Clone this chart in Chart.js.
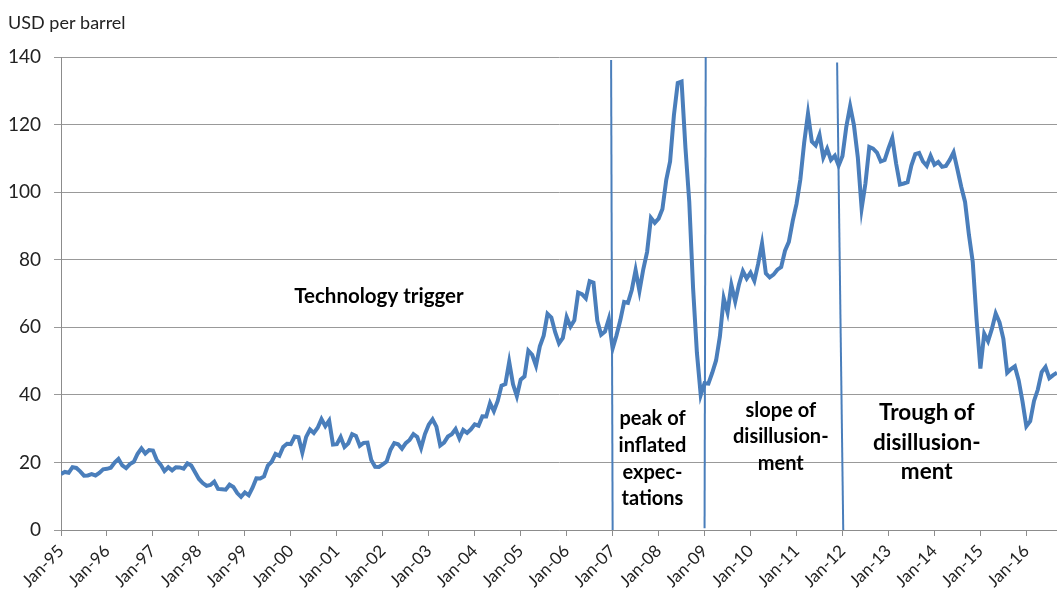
<!DOCTYPE html>
<html>
<head>
<meta charset="utf-8">
<script src="https://cdn.jsdelivr.net/npm/chart.js@4"></script>
<style>
  html, body { margin: 0; padding: 0; background: #fff; }
  #wrap { width: 1057px; height: 595px; }
</style>
</head>
<body>
<div id="wrap"><canvas id="oil" width="1057" height="595"></canvas></div>
<script>
// Brent crude, monthly average, Jan-95 .. Sep-16 (USD per barrel)

const yearTicks = ['Jan-95', 'Jan-96', 'Jan-97', 'Jan-98', 'Jan-99', 'Jan-00', 'Jan-01',
  'Jan-02', 'Jan-03', 'Jan-04', 'Jan-05', 'Jan-06', 'Jan-07', 'Jan-08', 'Jan-09',
  'Jan-10', 'Jan-11', 'Jan-12', 'Jan-13', 'Jan-14', 'Jan-15', 'Jan-16'];

const brentUsd = [
  16.57, 17.18, 16.94, 18.61, 18.37, 17.35, 16.08, 16.16, 16.53, 16.15, 16.91, 17.95,   // 1995
  18.11, 18.42, 19.97, 21.03, 19.11, 18.33, 19.50, 20.19, 22.57, 24.16, 22.63, 23.67,   // 1996
  23.51, 20.71, 19.36, 17.44, 18.57, 17.66, 18.58, 18.53, 18.17, 19.70, 19.09, 17.08,   // 1997
  15.10, 13.89, 13.05, 13.33, 14.31, 12.16, 12.05, 11.93, 13.41, 12.74, 10.93, 9.82,    // 1998
  11.10, 10.26, 12.51, 15.29, 15.23, 15.86, 19.08, 20.21, 22.54, 21.96, 24.58, 25.54,   // 1999
  25.43, 27.67, 27.46, 22.89, 27.57, 29.73, 28.71, 30.25, 32.83, 30.73, 32.39, 25.27,   // 2000
  25.42, 27.52, 24.55, 25.64, 28.36, 27.86, 24.94, 25.76, 25.86, 20.70, 18.73, 18.65,   // 2001
  19.43, 20.27, 23.70, 25.72, 25.38, 24.08, 25.72, 26.65, 28.39, 27.52, 24.26, 28.40,   // 2002
  31.17, 32.77, 30.61, 25.00, 25.86, 27.65, 28.35, 29.89, 27.11, 29.61, 28.75, 29.81,   // 2003
  31.28, 30.86, 33.63, 33.59, 37.57, 35.18, 38.22, 42.74, 43.20, 49.78, 43.11, 39.60,   // 2004
  44.51, 45.48, 53.10, 51.88, 48.65, 54.35, 57.52, 63.98, 62.91, 58.54, 55.24, 56.86,   // 2005
  62.99, 60.21, 62.06, 70.26, 69.78, 68.56, 73.67, 73.23, 61.96, 57.81, 58.76, 62.47,   // 2006
  53.68, 57.56, 62.05, 67.49, 67.21, 71.05, 76.93, 70.76, 77.17, 82.34, 92.41, 90.93,   // 2007
  92.18, 94.99, 103.64, 109.07, 122.80, 132.32, 132.72, 113.24, 97.23, 71.58, 52.45, 39.95, // 2008
  43.44, 43.32, 46.54, 50.18, 57.30, 68.61, 64.44, 72.51, 67.65, 72.77, 76.66, 74.46,   // 2009
  76.17, 73.75, 78.83, 84.82, 75.95, 74.76, 75.58, 77.04, 77.84, 82.67, 85.28, 91.45,   // 2010
  96.52, 103.72, 114.64, 123.26, 114.99, 113.83, 116.97, 110.22, 112.83, 109.55, 110.77, 107.87, // 2011
  110.69, 119.33, 125.45, 119.75, 110.34, 95.16, 102.62, 113.36, 112.86, 111.71, 109.06, 109.49, // 2012
  112.96, 116.05, 108.47, 102.25, 102.56, 102.92, 107.93, 111.28, 111.60, 109.08, 107.79, 110.76, // 2013
  108.12, 108.90, 107.48, 107.76, 109.54, 111.80, 106.77, 101.61, 97.09, 87.43, 79.44, 62.34, // 2014
  47.76, 58.10, 55.89, 59.52, 64.08, 61.48, 56.56, 46.52, 47.62, 48.43, 44.27, 38.01,   // 2015
  30.70, 32.18, 38.21, 41.58, 46.74, 48.25, 44.95, 45.84, 46.57                         // 2016
];

// phase separators, [monthIndex, price] at top and bottom
const phaseLines = [
  [[143.6, 139.1], [144, 0]],
  [[168.3, 140], [168, 0.5]],
  [[202.6, 138.4], [204.2, 0]],
];

// phase captions: month index of the centre, price at the first line
const phaseLabels = [
  { lines: ['Technology trigger'], x: 83, y: 69, size: 20.5, lead: 0 },
  { lines: ['peak of', 'inflated', 'expec-', 'tations'], x: 154.4, y: 32.9, size: 20, lead: 26.7 },
  { lines: ['slope of', 'disillusion-', 'ment'], x: 187.9, y: 35.5, size: 20, lead: 26.7 },
  { lines: ['Trough of', 'disillusion-', 'ment'], x: 226, y: 34.6, size: 22.5, lead: 29.5 },
];

const BLUE = '#4a7ebb';
const FONT = 'Lato, "Open Sans", sans-serif';

// ── captions ──────────────────────────────────────────────────────────────────

const captionPlugin = {
  id: 'captions',
  afterDraw(chart) {
    const { ctx, scales: { x, y } } = chart;
    ctx.save();
    ctx.fillStyle = '#000';
    ctx.textAlign = 'center';
    ctx.textBaseline = 'middle';
    phaseLabels.forEach(lb => {
      ctx.font = `bold ${lb.size}px ${FONT}`;
      const cx = x.getPixelForValue(lb.x);
      const cy = y.getPixelForValue(lb.y);
      lb.lines.forEach((t, i) => ctx.fillText(t, cx, cy + i * lb.lead));
    });
    // y-axis unit
    ctx.font = `18px ${FONT}`;
    ctx.fillStyle = '#222';
    ctx.textAlign = 'left';
    ctx.fillText('USD per barrel', 8, chart.chartArea.top - 34);
    ctx.restore();
  }
};

// ── chart ─────────────────────────────────────────────────────────────────────

const priceData = brentUsd.map((v, i) => ({ x: i, y: v }));

const lineSets = phaseLines.map(seg => ({
  data: seg.map(p => ({ x: p[0], y: p[1] })),
  borderColor: BLUE,
  borderWidth: 2,
  pointRadius: 0,
  clip: false,
}));

new Chart(document.getElementById('oil'), {
  type: 'line',
  data: {
    datasets: [
      ...lineSets,
      {
        label: 'Brent',
        data: priceData,
        borderColor: BLUE,
        borderWidth: 4,
        pointRadius: 0,
        tension: 0,
        fill: false,
      },
    ],
  },
  options: {
    responsive: false,
    animation: false,
    devicePixelRatio: 1,
    layout: { padding: { top: 57, left: 0, right: 0, bottom: 0 } },
    plugins: { legend: { display: false }, tooltip: { enabled: false } },
    scales: {
      x: {
        type: 'linear',
        min: 0,
        max: 260,
        afterFit: s => { s.height = 65; },
        border: { color: '#8c8c8c' },
        grid: { drawOnChartArea: false, tickLength: 6, color: '#8c8c8c' },
        ticks: {
          stepSize: 12,
          includeBounds: false,
          autoSkip: false,
          minRotation: 45,
          maxRotation: 45,
          padding: 5,
          color: '#222',
          font: { family: FONT, size: 17 },
          callback: v => yearTicks[v / 12] ?? '',
        },
      },
      y: {
        min: 0,
        max: 140,
        afterFit: s => { s.width = 61; },
        border: { color: '#8c8c8c' },
        grid: { color: '#999', tickLength: 7 },
        ticks: {
          stepSize: 20,
          padding: 13,
          color: '#222',
          font: { family: FONT, size: 19 },
        },
      },
    },
  },
  plugins: [captionPlugin],
});
</script>
</body>
</html>
